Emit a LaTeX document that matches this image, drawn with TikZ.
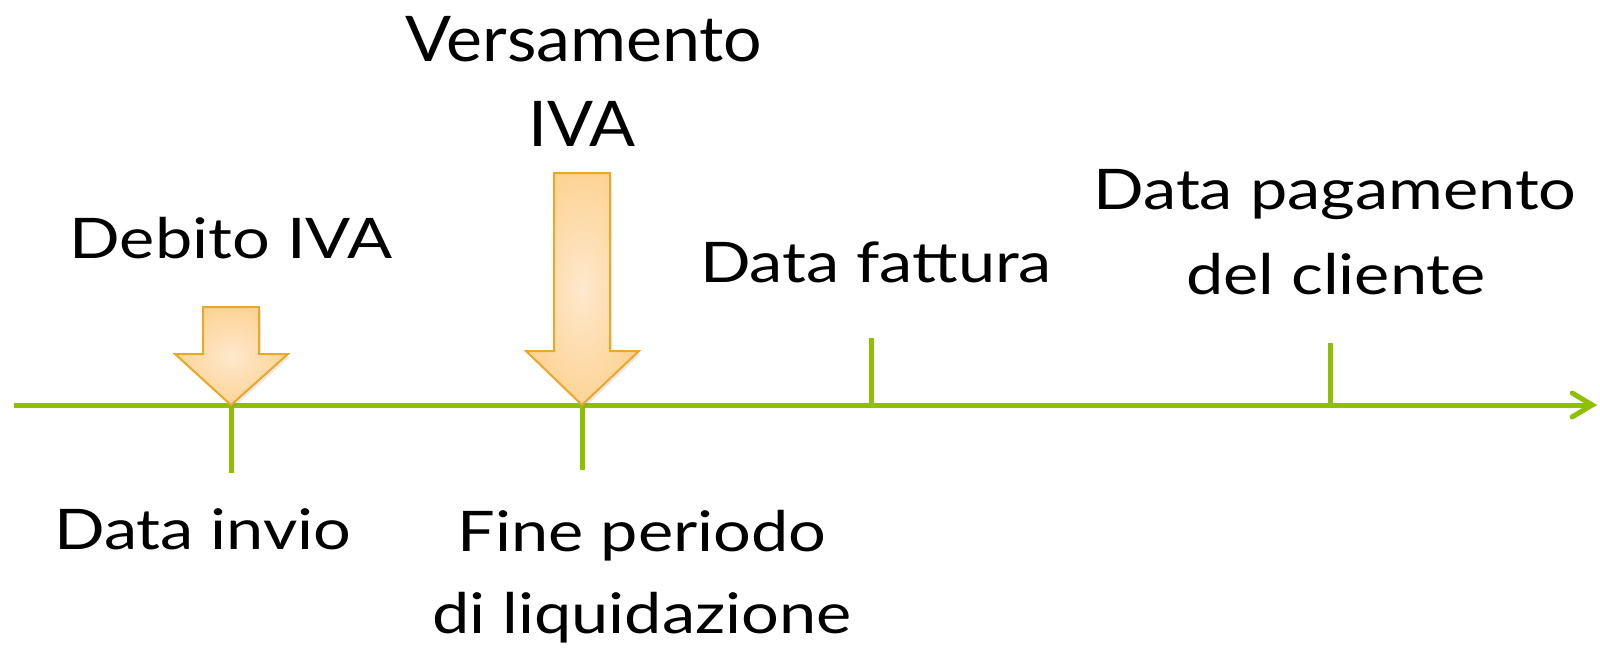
\documentclass[tikz,border=0pt]{standalone}
\usepackage{fontspec}
\setmainfont{Lato}[FakeStretch=1.19]
\newfontfamily\bigfam{Lato}[FakeStretch=1.08]
\usetikzlibrary{arrows.meta,shadows}
\definecolor{axisgreen}{RGB}{141,192,0}
\definecolor{arrowedge}{RGB}{233,168,38}
\definecolor{arrowin}{RGB}{254,232,205}
\definecolor{arrowout}{RGB}{253,212,150}
\tikzset{
  axisline/.style={draw=axisgreen, line width=5pt},
  tickline/.style={draw=axisgreen, line width=5pt},
  bigarrow/.style={draw=arrowedge, line width=2pt, line join=miter, inner color=arrowin, outer color=arrowout,
    drop shadow={opacity=0.18, shadow xshift=2pt, shadow yshift=-3pt}},
  lbl/.style={font=\fontsize{56}{68}\selectfont, anchor=base, inner sep=0pt},
  biglbl/.style={font=\bigfam\fontsize{63}{80}\selectfont, anchor=base, inner sep=0pt},
}
\begin{document}
\begin{tikzpicture}[x=1pt,y=-1pt]
\useasboundingbox (0,0) rectangle (1600,651);
% axis
\coordinate (axstart) at (14,405);
\coordinate (axend) at (1597,405);
\draw[axisline, -{Straight Barb[length=20pt,width=24pt,line cap=round]}] (axstart) -- (axend);
% ticks
\coordinate (t1a) at (231,405); \coordinate (t1b) at (231,473);
\coordinate (t2a) at (582,405); \coordinate (t2b) at (582,470);
\coordinate (t3a) at (871,338); \coordinate (t3b) at (871,405);
\coordinate (t4a) at (1330,343); \coordinate (t4b) at (1330,405);
\draw[tickline] (t1a) -- (t1b);
\draw[tickline] (t2a) -- (t2b);
\draw[tickline] (t3a) -- (t3b);
\draw[tickline] (t4a) -- (t4b);
% block arrows
\path[bigarrow] (203,307) -- (259,307) -- (259,354) -- (288,354) -- (231,405) -- (175,354) -- (203,354) -- cycle;
\path[bigarrow] (554,173) -- (610,173) -- (610,351) -- (639,351) -- (582,405) -- (526,351) -- (554,351) -- cycle;
% labels
\node[biglbl] (vers1) at (584,61) {Versamento};
\node[biglbl] (vers2) at (582,146) {IVA};
\node[lbl] (deb) at (231,258) {Debito IVA};
\node[lbl] (fatt) at (876,282) {Data fattura};
\node[lbl] (pag1) at (1335,209) {Data pagamento};
\node[lbl] (pag2) at (1336,294) {del cliente};
\node[lbl] (inv) at (203,549) {Data invio};
\node[lbl] (fine1) at (642,551) {Fine periodo};
\node[lbl] (fine2) at (642,633) {di liquidazione};
\end{tikzpicture}
\end{document}
